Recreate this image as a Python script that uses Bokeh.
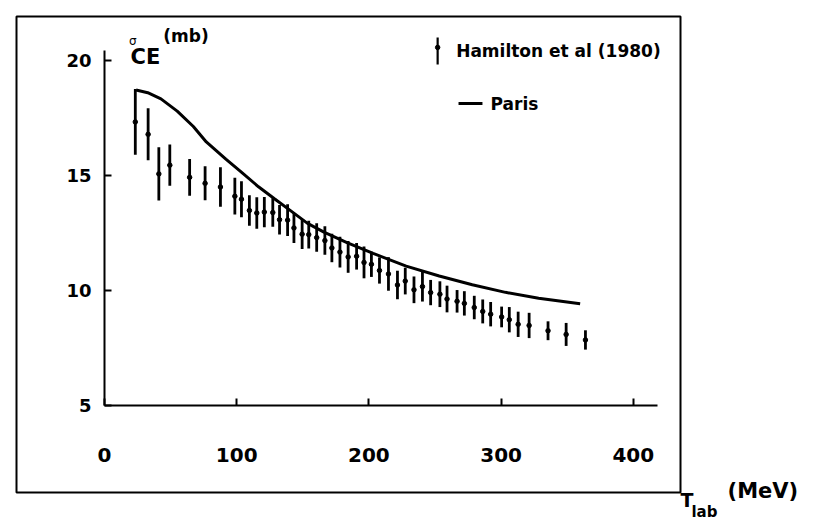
from bokeh.plotting import figure
from bokeh.models import Range1d, FixedTicker, Label, BoxAnnotation, ColumnDataSource
from bokeh.embed import file_html
from bokeh.resources import INLINE

# ---- data ----
energy = [23.3, 33.0, 41.1, 49.4, 64.4, 76.1, 87.7, 98.6, 103.6, 109.6,
          115.2, 120.9, 127.3, 132.4, 138.5, 143.3, 149.5, 154.5, 160.5, 166.7,
          172.0, 178.1, 184.3, 190.7, 196.3, 201.9, 208.0, 214.8, 221.6, 227.5,
          234.1, 240.5, 246.7, 253.7, 259.1, 266.7, 272.2, 279.7, 286.1, 292.1,
          300.4, 306.2, 312.9, 321.2, 335.5, 349.2, 363.8]
sigma = [17.33, 16.79, 15.07, 15.45, 14.92, 14.66, 14.50, 14.10, 13.97, 13.48,
         13.37, 13.41, 13.39, 13.08, 13.06, 12.72, 12.45, 12.43, 12.30, 12.17,
         11.85, 11.67, 11.46, 11.49, 11.22, 11.14, 10.87, 10.72, 10.24, 10.41,
         10.03, 10.17, 9.91, 9.84, 9.63, 9.53, 9.44, 9.26, 9.09, 8.97,
         8.85, 8.73, 8.53, 8.48, 8.25, 8.09, 7.85]
sigma_err = [1.43, 1.13, 1.16, 0.90, 0.80, 0.74, 0.86, 0.80, 0.78, 0.66,
             0.68, 0.66, 0.62, 0.64, 0.69, 0.65, 0.65, 0.60, 0.62, 0.62,
             0.62, 0.67, 0.69, 0.58, 0.69, 0.55, 0.57, 0.73, 0.62, 0.58,
             0.58, 0.65, 0.55, 0.56, 0.58, 0.49, 0.53, 0.51, 0.52, 0.53,
             0.45, 0.55, 0.55, 0.55, 0.41, 0.50, 0.42]
paris_energy = [23.9, 32.7, 42.7, 55.0, 67.2, 77.0, 91.8, 104.2, 116.5, 128.8,
                141.2, 153.6, 166.0, 183.4, 203.2, 228.2, 253.2, 278.2, 303.3,
                328.4, 359.8]
paris_sigma = [18.72, 18.60, 18.33, 17.80, 17.13, 16.46, 15.71, 15.11, 14.51, 13.98,
               13.45, 12.92, 12.54, 12.08, 11.61, 11.06, 10.63, 10.25, 9.92,
               9.66, 9.42]
x_ticks = [0, 100, 200, 300, 400]
y_ticks = [5, 10, 15, 20]

FONT = "DejaVu Sans"
W, H = 810, 522

src = ColumnDataSource(dict(
    x=energy, y=sigma,
    lo=[s - e for s, e in zip(sigma, sigma_err)],
    hi=[s + e for s, e in zip(sigma, sigma_err)],
))

# the plot frame covers the whole canvas; axes are fixed inside it
p = figure(width=W, height=H, output_backend="svg", toolbar_location=None,
           x_range=Range1d(-78.67, 534.04), y_range=Range1d(-0.087, 22.609),
           min_border=0, min_border_left=0, min_border_right=0,
           min_border_top=0, min_border_bottom=0,
           background_fill_color="white", border_fill_color="white")
p.outline_line_color = None
p.grid.visible = False

for ax in (p.xaxis[0], p.yaxis[0]):
    ax.axis_line_width = 2
    ax.axis_line_color = "black"
    ax.major_tick_line_width = 2
    ax.major_tick_line_color = "black"
    ax.major_tick_in = 7
    ax.major_tick_out = 0
    ax.minor_tick_line_color = None
    ax.major_label_text_font = FONT
    ax.major_label_text_font_style = "bold"
    ax.major_label_text_color = "black"

p.xaxis.fixed_location = 5
p.xaxis.ticker = FixedTicker(ticks=x_ticks)
p.xaxis.bounds = (0, 418)
p.xaxis.major_label_standoff = 42
p.xaxis.major_label_text_font_size = "20px"

p.yaxis.fixed_location = 0
p.yaxis.ticker = FixedTicker(ticks=y_ticks)
p.yaxis.bounds = (5, 20.43)
p.yaxis.major_label_standoff = 13
p.yaxis.major_label_text_font_size = "18px"

# data: error bars with centre dots
p.segment(x0="x", y0="lo", x1="x", y1="hi", source=src, line_color="black", line_width=2.8)
p.scatter(x="x", y="y", source=src, marker="circle", size=4.5, color="black")

# Paris curve
p.line(paris_energy, paris_sigma, line_color="black", line_width=3)

# outer frame of the figure
p.add_layout(BoxAnnotation(left=16, right=680, top=16, bottom=492,
                           left_units="canvas", right_units="canvas",
                           top_units="canvas", bottom_units="canvas",
                           fill_alpha=0, line_color="black", line_alpha=1.0,
                           line_width=2))

def lab(x, y, text, size, bold=True, baseline="middle"):
    p.add_layout(Label(x=x, y=y, text=text, text_font=FONT,
                       text_font_style="bold" if bold else "normal",
                       text_font_size=size, text_color="black",
                       text_baseline=baseline))

# legend (drawn by hand)
p.segment(x0=[252], y0=[19.83], x1=[252], y1=[21.0], line_color="black", line_width=2.2)
p.scatter(x=[252], y=[20.57], marker="circle", size=4.5, color="black")
lab(266, 20.43, "Hamilton et al (1980)", "17px")
p.segment(x0=[267.8], y0=[18.13], x1=[285.9], y1=[18.13], line_color="black", line_width=3)
lab(292, 18.13, "Paris", "17px")

# y axis title  sigma_CE (mb)
lab(18.5, 20.85, "σ", "12px", bold=False)
lab(19.7, 20.17, "CE", "21px")
lab(44.5, 21.05, "(mb)", "17px")

# x axis title  T_lab (MeV)
lab(435.7, 0.87, "T", "19px", baseline="alphabetic")
lab(444.0, 0.35, "lab", "15px", baseline="alphabetic")
lab(471.3, 1.30, "(MeV)", "21px")

open("out.html", "w").write(file_html(p, INLINE))
